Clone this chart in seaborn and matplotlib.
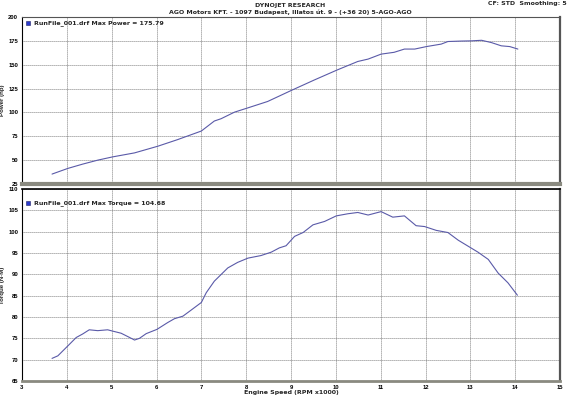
import numpy as np
import pandas as pd
import matplotlib
matplotlib.use("Agg")
import matplotlib.pyplot as plt
import seaborn as sns

# ---- data (RPM x1000) ----
power_rpm = [3.67, 4.02, 4.35, 4.69, 5.02, 5.51, 6.03, 6.47, 7.00, 7.29, 7.44, 7.74, 8.02,
             8.48, 9.00, 9.52, 10.03, 10.49, 10.72, 11.01, 11.30, 11.53, 11.76, 12.02,
             12.35, 12.50, 12.80, 13.02, 13.25, 13.47, 13.69, 13.88, 14.06]
power_hp = [35.4, 41.3, 45.8, 50.0, 53.4, 57.6, 64.6, 71.5, 80.5, 91.0, 93.4, 100.3, 104.5,
            111.5, 122.9, 134.0, 144.5, 153.4, 155.9, 161.1, 163.0, 166.4, 166.4, 169.0,
            171.6, 174.3, 174.8, 175.0, 175.6, 173.2, 169.8, 169.0, 166.4]

torque_rpm = [3.67, 3.80, 4.02, 4.21, 4.35, 4.50, 4.69, 4.91, 5.02, 5.21, 5.40, 5.51, 5.62,
              5.77, 6.01, 6.25, 6.40, 6.59, 6.77, 7.00, 7.11, 7.29, 7.59, 7.81, 8.04, 8.33,
              8.56, 8.74, 8.89, 9.08, 9.27, 9.49, 9.75, 10.01, 10.27, 10.49, 10.72, 11.01,
              11.27, 11.53, 11.79, 11.98, 12.24, 12.50, 12.73, 13.17, 13.40, 13.62, 13.84, 14.05]
torque_nm = [70.3, 70.9, 73.2, 75.2, 76.0, 77.0, 76.8, 77.0, 76.7, 76.2, 75.2, 74.6, 75.0,
             76.1, 77.1, 78.7, 79.6, 80.2, 81.6, 83.4, 85.7, 88.4, 91.5, 92.8, 93.8, 94.4,
             95.2, 96.2, 96.7, 98.9, 99.8, 101.6, 102.4, 103.7, 104.2, 104.5, 103.9, 104.7,
             103.4, 103.7, 101.4, 101.2, 100.3, 99.8, 98.0, 95.2, 93.5, 90.3, 88.0, 85.1]

x_ticks = list(range(3, 16))
power_ticks = [25, 50, 75, 100, 125, 150, 175, 200]
torque_ticks = [65, 70, 75, 80, 85, 90, 95, 100, 105, 110]

title1 = "DYNOJET RESEARCH"
title2 = "AGO Motors KFT. - 1097 Budapest, Illatos út. 9 - (+36 20) 5-AGO-AGO"
corner = "CF: STD  Smoothing: 5"
leg_power = "RunFile_001.drf Max Power = 175.79"
leg_torque = "RunFile_001.drf Max Torque = 104.68"

# ---- style ----
sns.set_style("white")
plt.rcParams['font.family'] = ['Liberation Sans', 'DejaVu Sans']
dv = ['DejaVu Sans']
line_color = "#5a5aa8"
fs = 4.5
tfs = 4.2

fig = plt.figure(figsize=(5.7, 3.96), dpi=100)
W, H = 570, 396
def ax_rect(l, t, r, b):
    return [l / W, 1 - b / H, (r - l) / W, (b - t) / H]

ax1 = fig.add_axes(ax_rect(22, 17, 560, 184))
ax2 = fig.add_axes(ax_rect(22, 189, 560, 381))

dfp = pd.DataFrame({"rpm": power_rpm, "hp": power_hp})
dft = pd.DataFrame({"rpm": torque_rpm, "nm": torque_nm})
sns.lineplot(data=dfp, x="rpm", y="hp", ax=ax1, color=line_color, lw=0.8)
sns.lineplot(data=dft, x="rpm", y="nm", ax=ax2, color=line_color, lw=0.8)

for ax, yt, ylim, ylab in [(ax1, power_ticks, (25, 200), "Power (hp)"),
                           (ax2, torque_ticks, (65, 110), "Torque (N·M)")]:
    ax.set_xlim(3, 15)
    ax.set_ylim(*ylim)
    ax.set_xticks(x_ticks)
    ax.set_yticks(yt)
    ax.grid(True, which="major", color="#555555", linestyle=(0, (1, 1.4)), lw=0.6)
    ax.set_ylabel(ylab, fontsize=tfs + 0.2, fontweight="bold")
    ax.yaxis.set_label_coords(-0.032, 0.5)
    ax.set_xlabel("")
    ax.tick_params(axis="both", which="major", labelsize=tfs, length=3, width=0.6,
                   direction="inout", pad=1.2, colors="black")
    for lab in ax.get_yticklabels() + ax.get_xticklabels():
        lab.set_fontweight("bold")
    for s in ["top", "right"]:
        ax.spines[s].set_color("#555555")
        ax.spines[s].set_linewidth(0.8)
    ax.spines["right"].set_linewidth(1.6)
    ax.spines["left"].set_color("black")
    ax.spines["left"].set_linewidth(0.8)

ax1.set_yticks(np.arange(25, 201, 5), minor=True)
ax2.set_yticks(np.arange(65, 111, 1), minor=True)
ax2.set_xticks(np.arange(3, 15.01, 0.25), minor=True)
for ax in (ax1, ax2):
    ax.tick_params(which="minor", length=2, width=0.5, direction="inout", colors="black")
ax1.tick_params(axis="x", which="both", labelbottom=False, length=0)
ax1.spines["bottom"].set_color("#8a8a80")
ax1.spines["bottom"].set_linewidth(3)
ax2.spines["bottom"].set_color("#8a8a80")
ax2.spines["bottom"].set_linewidth(2)
ax2.spines["top"].set_color("black")
ax2.spines["top"].set_linewidth(1.2)
ax2.set_xlabel("Engine Speed (RPM x1000)", fontsize=fs, fontweight="bold", labelpad=0.3,
               family=dv)

# legends
for ax, txt, yfrac in [(ax1, leg_power, 0.965), (ax2, leg_torque, 0.925)]:
    ax.plot([0.012], [yfrac], marker="s", ms=3.2, color="#2a3acc", mec="#222266",
            mew=0.4, transform=ax.transAxes, clip_on=False)
    ax.text(0.022, yfrac, txt, transform=ax.transAxes, fontsize=fs, fontweight="bold",
            va="center", ha="left", family=dv)

fig.text(290 / W, 1 - 5 / H, title1, fontsize=fs, fontweight="bold", ha="center",
         va="center", family=dv)
fig.text(290 / W, 1 - 12.5 / H, title2, fontsize=fs, fontweight="bold", ha="center",
         va="center", family=dv)
fig.text(567 / W, 1 - 4 / H, corner, fontsize=fs, fontweight="bold", ha="right",
         va="center", family=dv)

fig.savefig("out.png", dpi=100, facecolor="white")
